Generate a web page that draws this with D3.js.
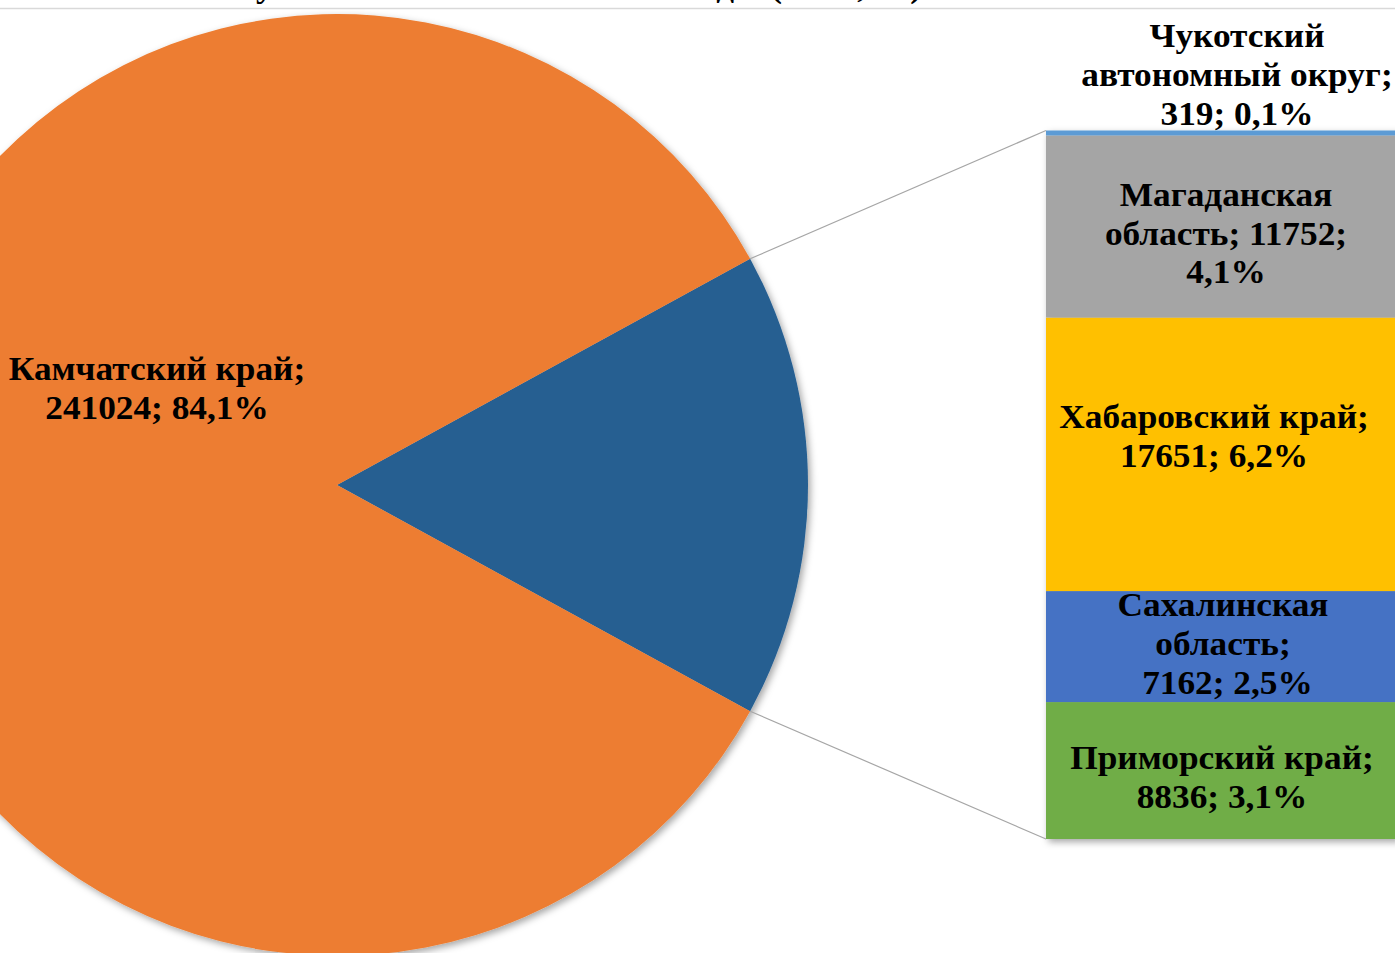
<!DOCTYPE html>
<html>
<head>
<meta charset="utf-8">
<script src="https://cdn.jsdelivr.net/npm/d3@7"></script>
<style>
  html, body { margin: 0; padding: 0; background: #fff; overflow: hidden; }
  svg { display: block; }
  text { font-family: "Liberation Serif", "Times New Roman", serif; font-weight: bold; fill: #000; }
</style>
</head>
<body>
<svg id="chart" width="1395" height="953"></svg>
<script>
// ---------- data ----------
const titleText = "Сумма вылова за 2019–2021 годы (тонн, %)";
const mainCategory = "Камчатский край";
const mainValue = 241024;
const mainPercent = "84,1%";
const otherCategories = ["Приморский край", "Сахалинская область", "Хабаровский край", "Магаданская область", "Чукотский автономный округ"];
const otherValues = [8836, 7162, 17651, 11752, 319];
const otherPercents = ["3,1%", "2,5%", "6,2%", "4,1%", "0,1%"];
// label lines as they are wrapped in the picture
const otherLabelLines = [
  ["Приморский край;", "8836; 3,1%"],
  ["Сахалинская", "область;", "\u00a07162; 2,5%"],
  ["Хабаровский край;", "17651; 6,2%"],
  ["Магаданская", "область; 11752;", "4,1%"],
  ["Чукотский", "автономный округ;", "319; 0,1%"]
];
const mainLabelLines = ["Камчатский край;", "241024; 84,1%"];

// ---------- layout / style ----------
const colors = {
  main: "#ED7D31",
  other: "#255E91",
  bars: ["#70AD47", "#4472C4", "#FFC000", "#A5A5A5", "#5B9BD5"]
};
const W = 1395, H = 953;
const cx = 337, cy = 485, R = 471;
const barX = 1046, barW = 352, barTop = 130.5, barBottom = 839;
const fontSize = 33, lineH = 39, stretchX = 1.07;
// label tweaks: text centre x, and shift of the block's middle baseline from segment centre
const barLabelX = [1222, 1223, 1214, 1226, 1237];
const barLabelDy = [17.5, 8.4, -6.4, 18, -44.5];
const mainLabelPos = { x: 157, dyFromCentre: -86 };

const svg = d3.select("#chart");

// defs: shadow
const defs = svg.append("defs");
const f = defs.append("filter").attr("id", "shadow")
  .attr("x", "-10%").attr("y", "-10%").attr("width", "120%").attr("height", "120%");
f.append("feDropShadow").attr("dx", 2.5).attr("dy", 3).attr("stdDeviation", 3.5)
  .attr("flood-color", "#000").attr("flood-opacity", 0.35);

// title (cut off at the top of the picture)
svg.append("text")
  .attr("transform", `translate(922,-3.5) scale(${stretchX},1)`)
  .attr("text-anchor", "end")
  .attr("font-size", fontSize)
  .text(titleText);

// top frame line
svg.append("line")
  .attr("x1", 0).attr("x2", W).attr("y1", 8.5).attr("y2", 8.5)
  .attr("stroke", "#D9D9D9").attr("stroke-width", 1.5);

// ---------- pie ----------
const otherTotal = d3.sum(otherValues);
const total = mainValue + otherTotal;
const otherAngle = 2 * Math.PI * otherTotal / total;
const startA = Math.PI / 2 - otherAngle / 2;

const pieData = [
  { name: "other", value: otherTotal, color: colors.other },
  { name: mainCategory, value: mainValue, color: colors.main }
];
const pie = d3.pie().sort(null).value(d => d.value)
  .startAngle(startA).endAngle(startA + 2 * Math.PI);
const arcs = pie(pieData);
const arc = d3.arc().innerRadius(0).outerRadius(R);

const pieG = svg.append("g").attr("transform", `translate(${cx},${cy})`);
pieG.append("g").attr("filter", "url(#shadow)")
  .selectAll("path").data(arcs).join("path")
  .attr("d", arc)
  .attr("fill", d => d.data.color);

// ---------- bar (stacked) ----------
const yScale = d3.scaleLinear().domain([0, otherTotal]).range([barBottom, barTop]);
const stackData = [];
let acc = 0;
otherValues.forEach((v, i) => {
  stackData.push({ i, y0: acc, y1: acc + v, color: colors.bars[i] });
  acc += v;
});

const barG = svg.append("g");
barG.append("g").attr("filter", "url(#shadow)")
  .selectAll("rect").data(stackData).join("rect")
  .attr("x", barX).attr("width", barW)
  .attr("y", d => yScale(d.y1))
  .attr("height", d => yScale(d.y0) - yScale(d.y1))
  .attr("fill", d => d.color);

// ---------- connector lines ----------
const otherArc = arcs[0];
const pt = a => [cx + R * Math.sin(a), cy - R * Math.cos(a)];
const pTop = pt(otherArc.startAngle);
const pBot = pt(otherArc.endAngle);
svg.append("line")
  .attr("x1", pTop[0]).attr("y1", pTop[1])
  .attr("x2", barX).attr("y2", yScale(otherTotal))
  .attr("stroke", "#A6A6A6").attr("stroke-width", 1.2);
svg.append("line")
  .attr("x1", pBot[0]).attr("y1", pBot[1])
  .attr("x2", barX).attr("y2", yScale(0))
  .attr("stroke", "#A6A6A6").attr("stroke-width", 1.2);

// ---------- labels ----------
// x: centre of text, midBaseline: baseline of the middle of the block
function multiline(lines, x, midBaseline) {
  const n = lines.length;
  const g = svg.append("g")
    .attr("transform", `translate(${x},${midBaseline}) scale(${stretchX},1)`);
  lines.forEach((l, k) => {
    g.append("text")
      .attr("text-anchor", "middle")
      .attr("font-size", fontSize)
      .attr("x", 0)
      .attr("y", (k - (n - 1) / 2) * lineH)
      .text(l);
  });
}

// main slice label
multiline(mainLabelLines, mainLabelPos.x, cy + mainLabelPos.dyFromCentre);

// bar labels
stackData.forEach((d, i) => {
  let ref;
  if (i === otherValues.length - 1) ref = yScale(d.y1);           // tiny segment: label sits above the bar
  else ref = (yScale(d.y0) + yScale(d.y1)) / 2;
  multiline(otherLabelLines[i], barLabelX[i], ref + barLabelDy[i]);
});
</script>
</body>
</html>
